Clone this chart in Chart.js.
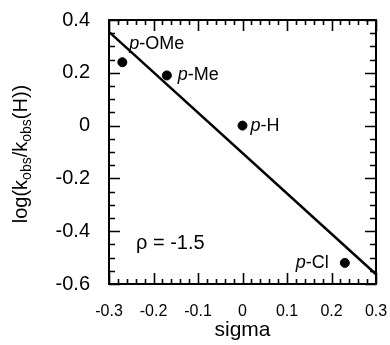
<!DOCTYPE html>
<html>
<head>
<meta charset="utf-8">
<script src="https://cdn.jsdelivr.net/npm/chart.js@4.4.0/dist/chart.umd.min.js"></script>
<style>
  html, body { margin: 0; padding: 0; background: #fff; }
  #wrap { width: 390px; height: 345px; position: relative; }
</style>
</head>
<body>
<div id="wrap"><canvas id="c"></canvas></div>
<script>
// substituents and their Hammett sigma / log(kobs/kobs(H)) values
const substituents = ['OMe', 'Me', 'H', 'Cl'];
const sigmaValues = [-0.27, -0.17, 0, 0.23];
const logRatios = [0.24, 0.19, 0, -0.52];
// fitted line end points
const fitX = [-0.3, 0.3];
const fitY = [0.355, -0.563];
const xTicks = [-0.3, -0.2, -0.1, 0, 0.1, 0.2, 0.3];
const yTicks = [0.4, 0.2, 0, -0.2, -0.4, -0.6];
const rhoText = 'ρ = -1.5';

const FONT = '"Liberation Sans", Arial, Helvetica, sans-serif';

// label offsets in px relative to the point
const labelOffsets = [[7, -18], [11, 0], [8, 0], [-49, 0]];

const decor = {
  id: 'decor',
  afterDraw(chart) {
    const { ctx, chartArea: a, scales: { x, y } } = chart;
    ctx.save();
    ctx.strokeStyle = '#000';
    ctx.lineWidth = 2;
    ctx.strokeRect(a.left, a.top, a.right - a.left, a.bottom - a.top);

    // inward ticks
    ctx.lineWidth = 1.6;
    ctx.beginPath();
    for (let i = 0; i <= 30; i++) {
      const v = -0.3 + i * 0.02;
      const px = Math.round(x.getPixelForValue(v)) + 0.5;
      const len = i % 5 === 0 ? 11 : 5;
      ctx.moveTo(px, a.bottom); ctx.lineTo(px, a.bottom - len);
      ctx.moveTo(px, a.top); ctx.lineTo(px, a.top + len);
    }
    for (let i = 0; i <= 20; i++) {
      const v = -0.6 + i * 0.05;
      const py = Math.round(y.getPixelForValue(v)) + 0.5;
      const len = i % 4 === 0 ? 11 : 6;
      ctx.moveTo(a.left, py); ctx.lineTo(a.left + len, py);
      ctx.moveTo(a.right, py); ctx.lineTo(a.right - len, py);
    }
    ctx.stroke();

    // point labels with italic p
    ctx.fillStyle = '#000';
    ctx.textBaseline = 'middle';
    substituents.forEach((s, i) => {
      const px = x.getPixelForValue(sigmaValues[i]) + labelOffsets[i][0];
      const py = y.getPixelForValue(logRatios[i]) + labelOffsets[i][1];
      ctx.font = 'italic 18px ' + FONT;
      ctx.textAlign = 'left';
      ctx.fillText('p', px, py);
      const w = ctx.measureText('p').width;
      ctx.font = '18px ' + FONT;
      ctx.fillText('-' + s, px + w, py);
    });

    // rho annotation
    ctx.font = '20px ' + FONT;
    ctx.fillText(rhoText, 136, 243);

    // x axis title
    ctx.textAlign = 'center';
    ctx.textBaseline = 'alphabetic';
    ctx.font = '21px ' + FONT;
    ctx.fillText('sigma', (a.left + a.right) / 2, 336);

    // y axis title with subscripts
    ctx.textBaseline = 'middle';
    const parts = [
      ['log(k', 20, 0], ['obs', 14, 6], ['/k', 20, 0], ['obs', 14, 6], ['(H))', 20, 0]
    ];
    let total = 0;
    parts.forEach(p => { ctx.font = p[1] + 'px ' + FONT; total += ctx.measureText(p[0]).width; });
    ctx.translate(21, (a.top + a.bottom) / 2 + 2);
    ctx.rotate(-Math.PI / 2);
    ctx.textAlign = 'left';
    let cx = -total / 2;
    parts.forEach(p => {
      ctx.font = p[1] + 'px ' + FONT;
      ctx.fillText(p[0], cx, p[2]);
      cx += ctx.measureText(p[0]).width;
    });
    ctx.restore();
  }
};

new Chart(document.getElementById('c'), {
  type: 'scatter',
  data: {
    datasets: [
      {
        data: sigmaValues.map((v, i) => ({ x: v, y: logRatios[i] })),
        backgroundColor: '#000', borderColor: '#000',
        pointRadius: 4.5, pointHoverRadius: 4.5
      },
      {
        type: 'line',
        data: fitX.map((v, i) => ({ x: v, y: fitY[i] })),
        borderColor: '#000', borderWidth: 2.5,
        pointRadius: 0, fill: false
      }
    ]
  },
  options: {
    responsive: true,
    maintainAspectRatio: false,
    animation: false,
    events: [],
    layout: { padding: { top: 20, right: 14, left: 0, bottom: 0 } },
    plugins: { legend: { display: false }, tooltip: { enabled: false } },
    scales: {
      x: {
        type: 'linear', min: -0.3, max: 0.3,
        afterFit: s => { s.height = 61; s.paddingLeft = 0; s.paddingRight = 0; },
        afterBuildTicks: s => { s.ticks = xTicks.map(v => ({ value: v })); },
        grid: { display: false, drawTicks: false },
        border: { display: false },
        ticks: {
          color: '#000', padding: 18, maxRotation: 0,
          font: { family: FONT, size: 16 },
          callback: v => (Math.abs(v) < 1e-9 ? '0' : String(Math.round(v * 10) / 10))
        }
      },
      y: {
        type: 'linear', min: -0.6, max: 0.4,
        afterFit: s => { s.width = 109; s.paddingTop = 0; s.paddingBottom = 0; },
        afterBuildTicks: s => { s.ticks = yTicks.map(v => ({ value: v })); },
        grid: { display: false, drawTicks: false },
        border: { display: false },
        ticks: {
          color: '#000', padding: 19,
          font: { family: FONT, size: 20 },
          callback: v => (Math.abs(v) < 1e-9 ? '0' : String(Math.round(v * 10) / 10))
        }
      }
    }
  },
  plugins: [decor]
});
</script>
</body>
</html>
